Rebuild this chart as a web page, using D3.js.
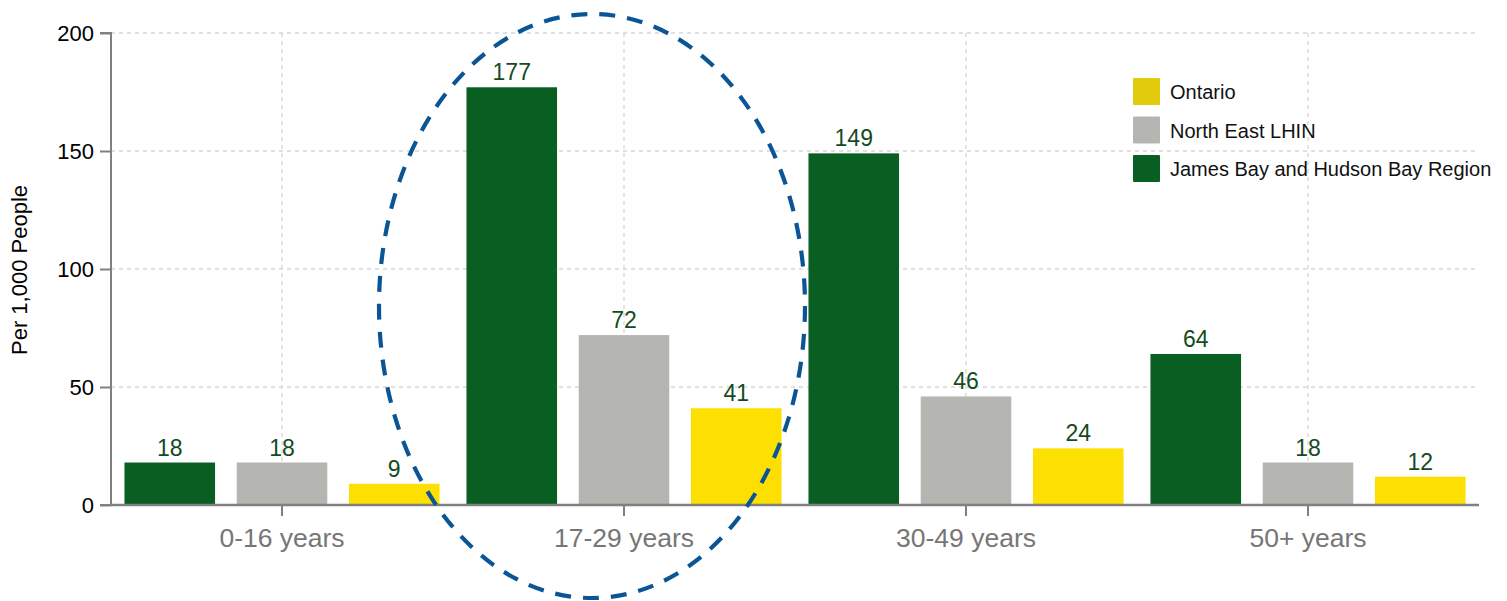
<!DOCTYPE html>
<html><head><meta charset="utf-8">
<script src="https://cdn.jsdelivr.net/npm/d3@7"></script>
<style>body{margin:0;background:#fff;font-family:Arial,"Liberation Sans",sans-serif}</style>
</head><body><svg id="c" width="1507" height="601"></svg>
<script>
const categories = ["0-16 years","17-29 years","30-49 years","50+ years"];
const seriesNames = ["James Bay and Hudson Bay Region","North East LHIN","Ontario"];
const jamesBay = [18,177,149,64];
const northEast = [18,72,46,18];
const ontario = [9,41,24,12];
const yTicks = [0,50,100,150,200];
const legendOrder = ["Ontario","North East LHIN","James Bay and Hudson Bay Region"];

(function(){
const FONT = "Arial,'Liberation Sans',sans-serif";
const colors = {"James Bay and Hudson Bay Region":"#095e22","North East LHIN":"#b5b6b1","Ontario":"#fde002"};
const legendColors = {"James Bay and Hudson Bay Region":"#095e22","North East LHIN":"#b5b6b1","Ontario":"#e2cb0c"};
const values = {"James Bay and Hudson Bay Region":jamesBay,"North East LHIN":northEast,"Ontario":ontario};

const svg = d3.select("#c").attr("font-family",FONT);
const pL=111, pR=1479, pT=33, pB=505;
const x0 = d3.scaleBand().domain(categories).range([pL,pR]).paddingInner(0).paddingOuter(0);
const x1 = d3.scaleBand().domain(seriesNames).range([0,x0.bandwidth()]).paddingInner(0.193).paddingOuter(0.12);
const y = d3.scaleLinear().domain([0,200]).range([pB,pT]);

// grid
const g = svg.append("g");
g.selectAll("line.h").data(yTicks.filter(d=>d>0)).enter().append("line")
 .attr("x1",pL).attr("x2",pR).attr("y1",d=>y(d)).attr("y2",d=>y(d))
 .attr("stroke","#d6d6d6").attr("stroke-width",1.3).attr("stroke-dasharray","4,4");
g.selectAll("line.v").data(categories).enter().append("line")
 .attr("x1",d=>x0(d)+x0.bandwidth()/2).attr("x2",d=>x0(d)+x0.bandwidth()/2)
 .attr("y1",pT).attr("y2",pB)
 .attr("stroke","#d6d6d6").attr("stroke-width",1.3).attr("stroke-dasharray","4,4");

// bars
const rows = [];
categories.forEach((c,i)=>seriesNames.forEach(s=>rows.push({c,s,v:values[s][i]})));
svg.append("g").selectAll("rect").data(rows).enter().append("rect")
 .attr("x",d=>x0(d.c)+x1(d.s)).attr("width",x1.bandwidth())
 .attr("y",d=>y(d.v)).attr("height",d=>y(0)-y(d.v)).attr("fill",d=>colors[d.s]);
svg.append("g").selectAll("text").data(rows).enter().append("text")
 .attr("x",d=>x0(d.c)+x1(d.s)+x1.bandwidth()/2).attr("y",d=>y(d.v)-7)
 .attr("text-anchor","middle").attr("font-size",23).attr("fill","#154a1f").text(d=>d.v);

// y axis
const ya = svg.append("g").attr("transform",`translate(${pL},0)`)
 .call(d3.axisLeft(y).tickValues(yTicks).tickSize(11).tickPadding(6));
ya.select(".domain").attr("stroke","#808080").attr("stroke-width",2).attr("d",`M-11,${pT}H0V${pB}H-11`);
ya.selectAll(".tick line").attr("stroke","#808080").attr("stroke-width",2);
ya.selectAll(".tick text").attr("font-size",22).attr("fill","#000").attr("font-family",FONT);

// x axis
const xa = svg.append("g").attr("transform",`translate(0,${pB})`)
 .call(d3.axisBottom(x0).tickSize(11).tickPadding(12));
xa.select(".domain").attr("stroke","#808080").attr("stroke-width",2.5).attr("d",`M${pL},0H${pR}`);
xa.selectAll(".tick line").attr("stroke","#808080").attr("stroke-width",2);
xa.selectAll(".tick text").attr("font-size",26.5).attr("fill","#767676").attr("font-family",FONT);

// y label
svg.append("text").attr("transform",`translate(27,270) rotate(-90)`)
 .attr("text-anchor","middle").attr("font-size",22).attr("fill","#000").text("Per 1,000 People");

// legend
const lg = svg.append("g");
legendOrder.forEach((s,i)=>{
  const yy = 78 + i*38.5;
  lg.append("rect").attr("x",1133).attr("y",yy).attr("width",27).attr("height",27).attr("rx",1).attr("fill",legendColors[s]);
  lg.append("text").attr("x",1170).attr("y",yy+21).attr("font-size",20).attr("fill","#111").text(s);
});

// ellipse
svg.append("ellipse").attr("cx",592).attr("cy",306).attr("rx",213).attr("ry",292)
 .attr("fill","none").attr("stroke","#0a5596").attr("stroke-width",4.2).attr("stroke-dasharray","16,12");
})();
</script></body></html>
